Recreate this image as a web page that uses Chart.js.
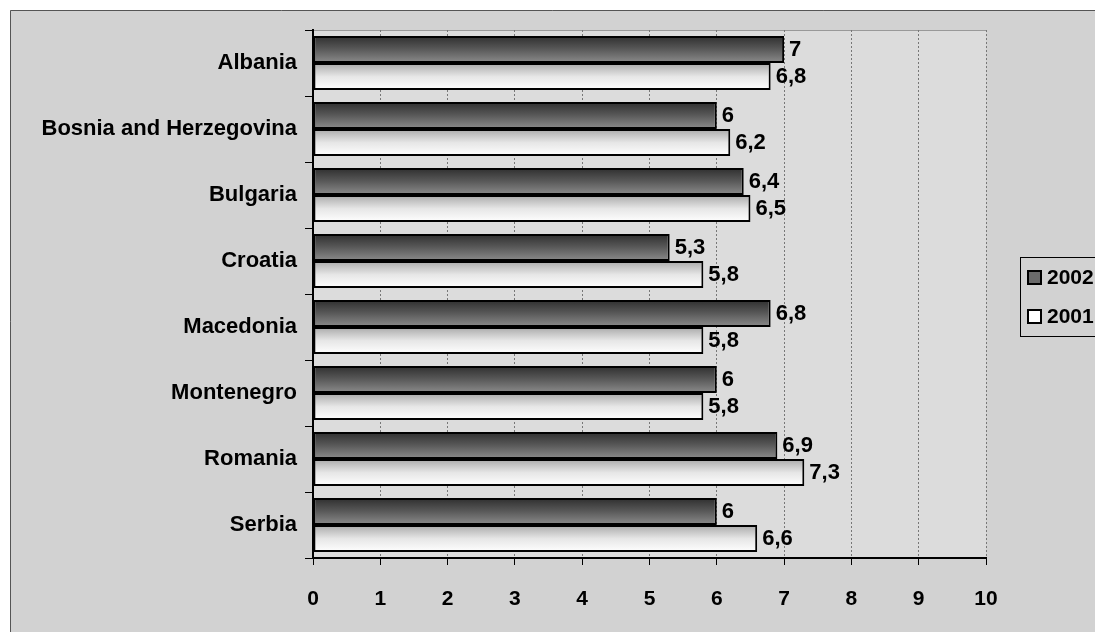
<!DOCTYPE html>
<html>
<head>
<meta charset="utf-8">
<script src="https://cdn.jsdelivr.net/npm/chart.js@4/dist/chart.umd.min.js"></script>
<style>
  html, body { margin: 0; padding: 0; background: #fff; }
  #wrap { width: 1095px; height: 632px; }
</style>
</head>
<body>
<div id="wrap"><canvas id="chart" width="1095" height="632"></canvas></div>
<script>
// chart data
const countries = ['Albania', 'Bosnia and Herzegovina', 'Bulgaria', 'Croatia', 'Macedonia', 'Montenegro', 'Romania', 'Serbia'];
const values2002 = [7, 6, 6.4, 5.3, 6.8, 6, 6.9, 6];
const values2001 = [6.8, 6.2, 6.5, 5.8, 5.8, 5.8, 7.3, 6.6];
const seriesNames = ['2002', '2001'];
const xTicks = [0, 1, 2, 3, 4, 5, 6, 7, 8, 9, 10];

const FONT = '"Liberation Sans", Arial, sans-serif';

// gradient stops for each series (top -> bottom of a bar)
const gradStops = [
  [[0, '#2e2e2e'], [0.45, '#555555'], [1, '#8c8c8c']],
  [[0, '#a8a8a8'], [0.5, '#e6e6e6'], [1, '#ffffff']]
];

function makeGrad(ctx, top, bottom, stops) {
  const g = ctx.createLinearGradient(0, top, 0, bottom);
  stops.forEach(s => g.addColorStop(s[0], s[1]));
  return g;
}

// backgrounds and frame
const framePlugin = {
  id: 'frame',
  beforeDraw(chart) {
    const ctx = chart.ctx;
    const a = chart.chartArea;
    ctx.save();
    ctx.fillStyle = '#ffffff';
    ctx.fillRect(0, 0, chart.width, chart.height);
    ctx.fillStyle = '#d2d2d2';
    ctx.fillRect(10, 10, chart.width - 10, chart.height - 10);
    ctx.strokeStyle = '#555';
    ctx.lineWidth = 1;
    ctx.beginPath();
    ctx.moveTo(10.5, chart.height);
    ctx.lineTo(10.5, 10.5);
    ctx.lineTo(chart.width, 10.5);
    ctx.stroke();
    ctx.fillStyle = '#dcdcdc';
    ctx.fillRect(a.left, a.top, a.right - a.left, a.bottom - a.top);
    ctx.strokeStyle = '#999';
    ctx.beginPath();
    ctx.moveTo(a.left, a.top + 0.5);
    ctx.lineTo(a.right, a.top + 0.5);
    ctx.stroke();
    ctx.restore();
  }
};

// per-bar vertical gradient
const gradientPlugin = {
  id: 'barGradient',
  beforeDatasetsDraw(chart) {
    const ctx = chart.ctx;
    chart.data.datasets.forEach((ds, di) => {
      chart.getDatasetMeta(di).data.forEach(el => {
        const top = el.y - el.height / 2;
        el.options.backgroundColor = makeGrad(ctx, top, top + el.height, gradStops[di]);
      });
    });
  }
};

// value labels at bar ends
const labelPlugin = {
  id: 'valueLabels',
  afterDatasetsDraw(chart) {
    const ctx = chart.ctx;
    ctx.save();
    ctx.font = 'bold 22px ' + FONT;
    ctx.fillStyle = '#000';
    ctx.textAlign = 'left';
    ctx.textBaseline = 'middle';
    chart.data.datasets.forEach((ds, di) => {
      chart.getDatasetMeta(di).data.forEach((el, i) => {
        const txt = String(ds.data[i]).replace('.', ',');
        ctx.fillText(txt, el.x + 5, el.y);
      });
    });
    ctx.restore();
  }
};

// legend box on the right
const legendPlugin = {
  id: 'boxLegend',
  afterDraw(chart) {
    const ctx = chart.ctx;
    ctx.save();
    ctx.strokeStyle = '#000';
    ctx.lineWidth = 1;
    ctx.strokeRect(1020.5, 257.5, 90, 79);
    ctx.font = 'bold 21px ' + FONT;
    ctx.textBaseline = 'middle';
    ctx.textAlign = 'left';
    seriesNames.forEach((name, i) => {
      const y = 271 + i * 39;
      ctx.fillStyle = i === 0 ? '#6a6a6a' : '#ffffff';
      ctx.fillRect(1028, y, 13, 13);
      ctx.lineWidth = 2;
      ctx.strokeRect(1028, y, 13, 13);
      ctx.fillStyle = '#000';
      ctx.fillText(name, 1047, y + 7);
    });
    ctx.restore();
  }
};

const ctx = document.getElementById('chart').getContext('2d');
new Chart(ctx, {
  type: 'bar',
  data: {
    labels: countries,
    datasets: [{
      label: seriesNames[0],
      data: values2002,
      backgroundColor: () => '#555',
      borderColor: '#000',
      borderWidth: 2,
      borderSkipped: false
    }, {
      label: seriesNames[1],
      data: values2001,
      backgroundColor: () => '#eee',
      borderColor: '#000',
      borderWidth: 2,
      borderSkipped: false
    }]
  },
  options: {
    indexAxis: 'y',
    responsive: false,
    animation: false,
    events: [],
    layout: {
      padding: { top: 30, right: 109, left: 0, bottom: 0 }
    },
    datasets: {
      bar: {
        categoryPercentage: 0.82,
        barPercentage: 1.0
      }
    },
    plugins: {
      legend: { display: false },
      tooltip: { enabled: false }
    },
    scales: {
      x: {
        min: 0,
        max: 10,
        afterBuildTicks(scale) {
          scale.ticks = xTicks.map(v => ({ value: v }));
        },
        afterFit(scale) {
          scale.height = 74;
        },
        grid: {
          color: '#777777',
          lineWidth: 1,
          tickLength: 7,
          tickColor: '#000'
        },
        border: {
          color: '#000',
          width: 2,
          dash: [2, 2]
        },
        ticks: {
          color: '#000',
          padding: 22,
          font: { family: FONT, size: 21, weight: 'bold' }
        }
      },
      y: {
        afterFit(scale) {
          scale.width = 313;
        },
        grid: {
          drawOnChartArea: false,
          tickLength: 8,
          tickColor: '#000',
          lineWidth: 1
        },
        border: {
          color: '#000',
          width: 2
        },
        ticks: {
          color: '#000',
          padding: 8,
          font: { family: FONT, size: 22, weight: 'bold' }
        }
      }
    }
  },
  plugins: [framePlugin, gradientPlugin, labelPlugin, legendPlugin]
});
</script>
</body>
</html>
